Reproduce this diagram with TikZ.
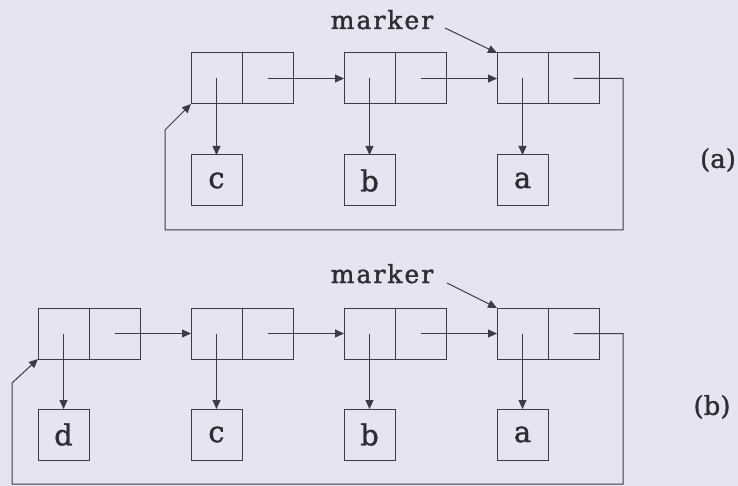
\documentclass[tikz,border=0pt]{standalone}
\usepackage{fontspec}
\setmainfont{DejaVu Serif}
\newfontfamily\mkfont[FakeBold=1.5,LetterSpace=8]{DejaVu Serif}
\usetikzlibrary{arrows.meta}
\definecolor{bg}{RGB}{228,228,242}
\definecolor{ln}{RGB}{60,60,70}
\definecolor{tx}{RGB}{45,45,50}
\begin{document}
\begin{tikzpicture}[x=1pt,y=-1pt,
 cell/.style={draw=ln, line width=1pt, minimum width=51pt, minimum height=51pt, inner sep=0pt, outer sep=0pt},
 datab/.style={cell, text=tx, font=\fontsize{29}{29}\selectfont\addfontfeature{FakeBold=1.2}},
 ptr/.style={draw=ln, line width=1pt, -{Triangle[length=9pt,width=8pt]}},
 mk/.style={text=tx, font=\mkfont\fontsize{25}{25}\selectfont, inner sep=0pt},
 tag/.style={text=tx, font=\fontsize{26}{26}\selectfont\addfontfeature{FakeBold=1.2}, inner sep=0pt}]
\fill[bg] (0,0) rectangle (738,486);
\useasboundingbox (0,0) rectangle (738,486);
% ---------- (a) ----------
\node[cell] (a1l) at (216.5,78.5) {};
\node[cell] (a1r) at (267.5,78.5) {};
\node[cell] (a2l) at (369.5,78.5) {};
\node[cell] (a2r) at (420.5,78.5) {};
\node[cell] (a3l) at (522.5,78.5) {};
\node[cell] (a3r) at (573.5,78.5) {};
\node[datab] (ac) at (216.5,180.5) {c};
\node[datab] (ab) at (369.5,180.5) {b};
\node[datab] (aa) at (522.5,180.5) {a};
\draw[ptr] (a1l.center) -- (ac.north);
\draw[ptr] (a2l.center) -- (ab.north);
\draw[ptr] (a3l.center) -- (aa.north);
\draw[ptr] (a1r.center) -- (a2l.west);
\draw[ptr] (a2r.center) -- (a3l.west);
\coordinate (aR) at (623,230);
\coordinate (aL) at (165,230);
\coordinate (aU) at (165,130);
\draw[ptr] (a3r.center) -| (aR) -- (aL) -- (aU) -- (a1l.south west);
\node[mk, anchor=base] (ma) at (382,29) {marker};
\coordinate (mas) at (445,28);
\draw[ptr] (mas) -- (a3l.north west);
\node[tag] (ta) at (718,160) {(a)};
% ---------- (b) ----------
\node[cell] (b1l) at (63.5,333.5) {};
\node[cell] (b1r) at (114.5,333.5) {};
\node[cell] (b2l) at (216.5,333.5) {};
\node[cell] (b2r) at (267.5,333.5) {};
\node[cell] (b3l) at (369.5,333.5) {};
\node[cell] (b3r) at (420.5,333.5) {};
\node[cell] (b4l) at (522.5,333.5) {};
\node[cell] (b4r) at (573.5,333.5) {};
\node[datab] (bd) at (63.5,434.5) {d};
\node[datab] (bc) at (216.5,434.5) {c};
\node[datab] (bb) at (369.5,434.5) {b};
\node[datab] (ba) at (522.5,434.5) {a};
\draw[ptr] (b1l.center) -- (bd.north);
\draw[ptr] (b2l.center) -- (bc.north);
\draw[ptr] (b3l.center) -- (bb.north);
\draw[ptr] (b4l.center) -- (ba.north);
\draw[ptr] (b1r.center) -- (b2l.west);
\draw[ptr] (b2r.center) -- (b3l.west);
\draw[ptr] (b3r.center) -- (b4l.west);
\coordinate (bR) at (623,484);
\coordinate (bL) at (12,484);
\coordinate (bU) at (12,383);
\draw[ptr] (b4r.center) -| (bR) -- (bL) -- (bU) -- (b1l.south west);
\node[mk, anchor=base] (mb) at (382,283) {marker};
\coordinate (mbs) at (447,283);
\draw[ptr] (mbs) -- (b4l.north west);
\node[tag] (tb) at (712,407) {(b)};
\end{tikzpicture}
\end{document}
